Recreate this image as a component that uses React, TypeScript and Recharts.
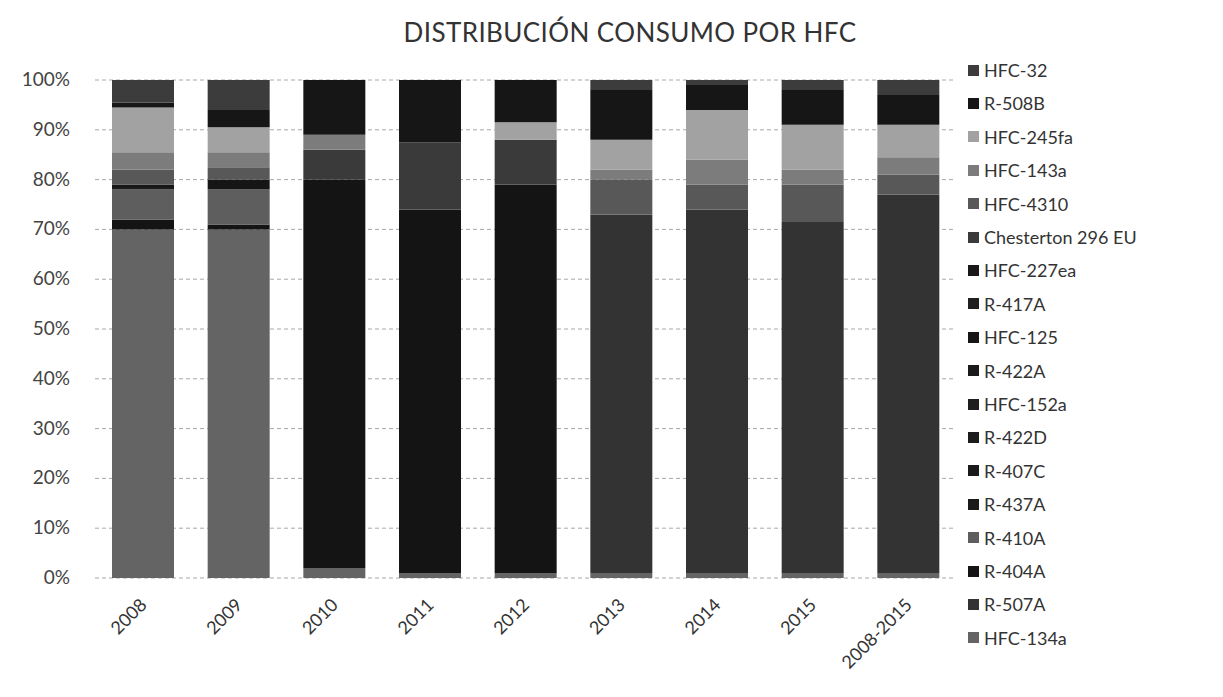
import React from "react";
import { BarChart, Bar, XAxis, YAxis, CartesianGrid } from "recharts";

const categories = ["2008", "2009", "2010", "2011", "2012", "2013", "2014", "2015", "2008-2015"];

// stacking order: bottom -> top
const seriesNames = [
  "HFC-134a", "R-507A", "R-404A", "R-410A", "R-437A", "R-407C", "R-422D", "HFC-152a", "R-422A",
  "HFC-125", "R-417A", "HFC-227ea", "Chesterton 296 EU", "HFC-4310", "HFC-143a", "HFC-245fa", "R-508B", "HFC-32",
];

const seriesColors = [
  "#646464", "#333333", "#141414", "#5e5e5e", "#1a1a1a", "#1a1a1a", "#1c1c1c", "#1e1e1e", "#1a1a1a",
  "#161616", "#202020", "#181818", "#3a3a3a", "#585858", "#7c7c7c", "#a2a2a2", "#161616", "#3c3c3c",
];

// percentage per category, one array per series (same order as categories)
const hfc134a = [70, 70, 2, 1, 1, 1, 1, 1, 1];
const r507a = [0, 0, 0, 0, 0, 72, 73, 70.5, 76];
const r404a = [2, 1, 78, 73, 78, 0, 0, 0, 0];
const r410a = [6, 7, 0, 0, 0, 0, 0, 0, 0];
const r437a = [0, 0, 0, 0, 0, 0, 0, 0, 0];
const r407c = [0.5, 0, 0, 0, 0, 0, 0, 0, 0];
const r422d = [0, 0, 0, 0, 0, 0, 0, 0, 0];
const hfc152a = [0, 0, 0, 0, 0, 0, 0, 0, 0];
const r422a = [0, 0, 0, 0, 0, 0, 0, 0, 0];
const hfc125 = [0.5, 2, 0, 0, 0, 0, 0, 0, 0];
const r417a = [0, 0, 0, 0, 0, 0, 0, 0, 0];
const hfc227ea = [0, 0, 0, 0, 0, 0, 0, 0, 0];
const chesterton = [0, 0, 6, 13.5, 9, 0, 0, 0, 0];
const hfc4310 = [3, 2.5, 0, 0, 0, 7, 5, 7.5, 4];
const hfc143a = [3.5, 3, 3, 0, 0, 2, 5, 3, 3.5];
const hfc245fa = [9, 5, 0, 0, 3.5, 6, 10, 9, 6.5];
const r508b = [1, 3.5, 11, 12.5, 8.5, 10, 5, 7, 6];
const hfc32 = [4.5, 6, 0, 0, 0, 2, 1, 2, 3];

const seriesValues = [
  hfc134a, r507a, r404a, r410a, r437a, r407c, r422d, hfc152a, r422a,
  hfc125, r417a, hfc227ea, chesterton, hfc4310, hfc143a, hfc245fa, r508b, hfc32,
];

const yTicks = [0, 10, 20, 30, 40, 50, 60, 70, 80, 90, 100];
const title = "DISTRIBUCIÓN CONSUMO POR HFC";

const rows = categories.map((c, i) => {
  const row: Record<string, any> = { cat: c };
  seriesNames.forEach((s, k) => {
    row["s" + k] = seriesValues[k][i];
  });
  return row;
});

const FONT = "Lato, 'Open Sans', sans-serif";

const XTick = (props: any) => {
  const { x, y, payload } = props;
  const ax = x + 5;
  const ay = y + 20;
  return (
    <text
      x={ax}
      y={ay}
      textAnchor="end"
      transform={`rotate(-45, ${ax}, ${ay})`}
      fill="#333"
      fontSize={18}
      fontFamily={FONT}
    >
      {payload.value}
    </text>
  );
};

const YTick = (props: any) => {
  const { y, payload } = props;
  return (
    <text x={62} y={y} dy={6} textAnchor="end" fill="#444" fontSize={19} fontFamily={FONT}>
      {payload.value + "%"}
    </text>
  );
};

export default function App() {
  const legendItems = seriesNames.map((n, k) => ({ name: n, color: seriesColors[k] })).reverse();
  return (
    <div style={{ position: "relative", width: 1207, height: 681, background: "#fff", fontFamily: FONT }}>
      <div
        style={{
          position: "absolute",
          left: 0,
          width: 1244,
          top: 8,
          textAlign: "center",
          fontSize: 26,
          color: "#333",
          fontFamily: FONT,
          letterSpacing: 0.4,
        }}
      >
        {title}
      </div>
      <BarChart
        width={1207}
        height={681}
        data={rows}
        margin={{ top: 72, right: 259, bottom: 0, left: 0 }}
        barSize={62}
      >
        <CartesianGrid vertical={false} stroke="#a8a8a8" strokeDasharray="4 3" />
        <XAxis dataKey="cat" axisLine={false} tickLine={false} interval={0} height={111} tick={<XTick />} />
        <YAxis
          domain={[0, 100]}
          ticks={yTicks}
          axisLine={false}
          tickLine={false}
          width={87}
          tick={<YTick />}
          allowDataOverflow
        />
        {seriesNames.map((n, k) => (
          <Bar key={n} dataKey={"s" + k} name={n} stackId="a" fill={seriesColors[k]} isAnimationActive={false} />
        ))}
      </BarChart>
      <div style={{ position: "absolute", left: 960, top: 51 }}>
        {legendItems.map((it, i) => (
          <div
            key={it.name}
            style={{ position: "absolute", top: i * 33.4, left: 0, display: "flex", alignItems: "center", whiteSpace: "nowrap" }}
          >
            <span style={{ display: "inline-block", width: 11, height: 11, background: it.color, marginRight: 5 }} />
            <span style={{ fontSize: 18, color: "#333", lineHeight: "22px" }}>{it.name}</span>
          </div>
        ))}
      </div>
    </div>
  );
}
